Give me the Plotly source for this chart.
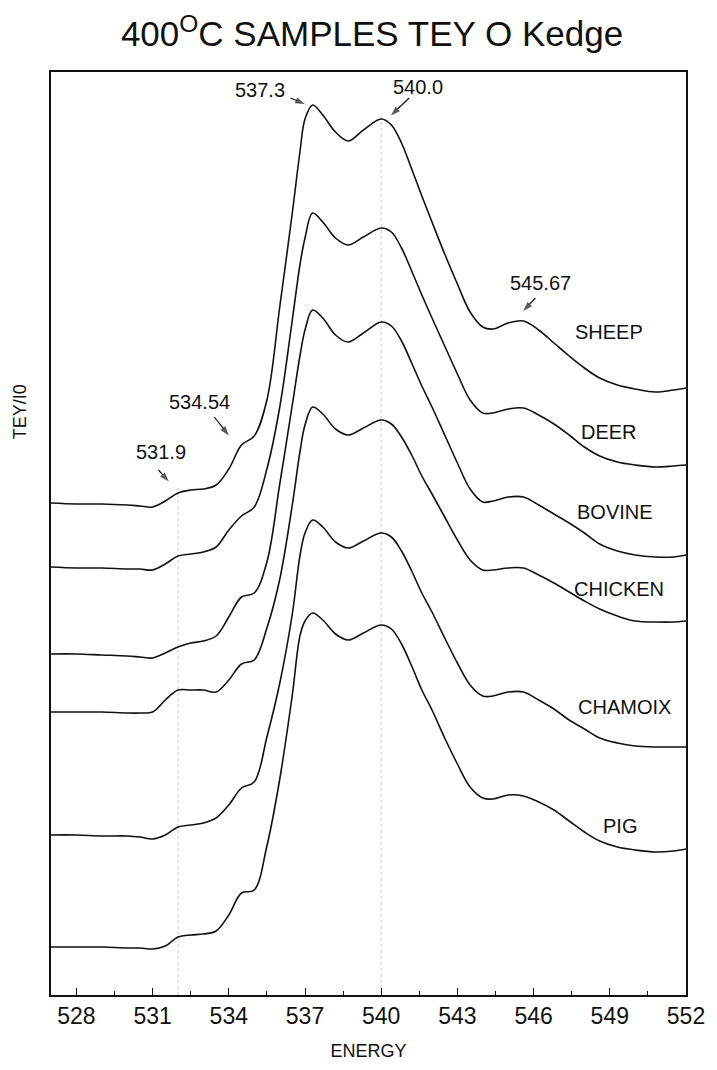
import plotly.graph_objects as go

# Photon energy grid (eV) shared by all spectra
energy = [527, 528, 529, 530, 530.5, 531, 531.5, 532, 532.5, 533, 533.5, 534, 534.5, 535,
          535.5, 536, 536.5, 536.8, 537.0, 537.3,
          537.7, 538.2, 538.7, 539.3, 540.0, 540.4, 540.8, 541.2, 541.6, 542.0, 542.5, 543.0,
          543.5, 544.0, 544.4, 545.0, 545.6, 546.2, 546.8, 547.4, 548.0, 548.6, 549.3, 550.0,
          550.8, 551.5, 552.0]

# TEY/I0 (arbitrary units, vertically stacked)
sheep = [4.92, 4.91, 4.91, 4.90, 4.89, 4.88, 4.94, 5.02, 5.05, 5.06, 5.10, 5.26, 5.50, 5.59,
         5.95, 6.87, 7.82, 8.43, 8.76, 8.90,
         8.80, 8.63, 8.54, 8.65, 8.76, 8.70, 8.52, 8.26, 7.99, 7.73, 7.41, 7.11, 6.83, 6.68,
         6.66, 6.72, 6.74, 6.65, 6.52, 6.39, 6.27, 6.17, 6.10, 6.06, 6.03, 6.05, 6.07]
deer = [4.28, 4.27, 4.27, 4.26, 4.26, 4.25, 4.31, 4.39, 4.41, 4.43, 4.48, 4.65, 4.79, 4.88,
        5.26, 5.87, 6.75, 7.30, 7.57, 7.82,
        7.73, 7.57, 7.50, 7.58, 7.67, 7.63, 7.47, 7.24, 7.00, 6.77, 6.49, 6.21, 5.95, 5.82,
        5.82, 5.86, 5.87, 5.80, 5.71, 5.60, 5.48, 5.39, 5.33, 5.30, 5.28, 5.29, 5.30]
bovine = [3.41, 3.41, 3.40, 3.39, 3.38, 3.37, 3.42, 3.48, 3.52, 3.54, 3.59, 3.78, 3.98, 4.02,
          4.33, 5.10, 5.90, 6.39, 6.65, 6.85,
          6.77, 6.60, 6.53, 6.62, 6.73, 6.69, 6.54, 6.32, 6.09, 5.88, 5.60, 5.32, 5.06, 4.93,
          4.94, 4.98, 4.98, 4.90, 4.81, 4.72, 4.62, 4.51, 4.44, 4.40, 4.38, 4.38, 4.40]
chicken = [2.83, 2.83, 2.83, 2.82, 2.82, 2.83, 2.95, 3.05, 3.05, 3.05, 3.03, 3.15, 3.31, 3.35,
           3.67, 4.15, 4.90, 5.43, 5.70, 5.88,
           5.81, 5.66, 5.60, 5.67, 5.75, 5.71, 5.58, 5.40, 5.19, 5.01, 4.78, 4.55, 4.35, 4.25,
           4.25, 4.27, 4.27, 4.20, 4.12, 4.03, 3.94, 3.86, 3.79, 3.74, 3.73, 3.73, 3.74]
chamoix = [1.60, 1.60, 1.59, 1.59, 1.58, 1.56, 1.60, 1.68, 1.70, 1.72, 1.77, 1.90, 2.07, 2.13,
           2.58, 3.11, 3.81, 4.39, 4.62, 4.75,
           4.68, 4.53, 4.47, 4.54, 4.62, 4.58, 4.44, 4.24, 4.02, 3.83, 3.57, 3.32, 3.10, 2.99,
           2.99, 3.03, 3.03, 2.95, 2.86, 2.75, 2.66, 2.57, 2.52, 2.49, 2.48, 2.48, 2.48]
pig = [0.48, 0.48, 0.48, 0.47, 0.47, 0.46, 0.49, 0.58, 0.60, 0.61, 0.64, 0.80, 1.02, 1.05,
       1.49, 2.15, 3.00, 3.59, 3.74, 3.82,
       3.75, 3.61, 3.55, 3.62, 3.70, 3.66, 3.51, 3.29, 3.05, 2.85, 2.57, 2.31, 2.08, 1.97,
       1.96, 2.00, 1.99, 1.93, 1.85, 1.74, 1.63, 1.54, 1.48, 1.45, 1.43, 1.44, 1.46]

sample_names = ["SHEEP", "DEER", "BOVINE", "CHICKEN", "CHAMOIX", "PIG"]
sample_label_x = [548.96, 548.96, 549.19, 549.38, 549.59, 549.41]
sample_label_y = [6.63, 5.63, 4.83, 4.06, 2.88, 1.69]

# Marked features: label text position and pointer arrow (tail -> head)
feature_labels = ["537.3", "540.0", "545.67", "534.54", "531.9"]
feature_text_x = [535.22, 541.45, 546.27, 532.85, 531.33]
feature_text_y = [9.05, 9.08, 7.12, 5.93, 5.43]
arrow_tail_x = [536.43, 541.10, 546.07, 533.43, 531.23]
arrow_tail_y = [8.97, 8.97, 6.97, 5.78, 5.25]
arrow_head_x = [536.99, 540.38, 545.59, 534.00, 531.64]
arrow_head_y = [8.91, 8.795, 6.84, 5.595, 5.135]

ref_lines_x = [532.0, 540.0]

x_ticks = [528, 531, 534, 537, 540, 543, 546, 549, 552]
x_minor = [529.5, 532.5, 535.5, 538.5, 541.5, 544.5, 547.5, 550.5]

FONT = "Arial, Liberation Sans, sans-serif"
INK = "#111111"

fig = go.Figure()

# light dotted reference lines at the edge features, up to the top spectrum
for xr in ref_lines_x:
    i = energy.index(xr)
    fig.add_shape(type="line", x0=xr, x1=xr, y0=0, y1=sheep[i] + 0.06,
                  xref="x", yref="y", layer="below",
                  line=dict(color="#c8c8c8", width=1, dash="dot"))

for series in [sheep, deer, bovine, chicken, chamoix, pig]:
    fig.add_trace(go.Scatter(x=energy, y=series, mode="lines",
                             line=dict(color=INK, width=1.6, shape="spline", smoothing=1.0),
                             showlegend=False, hoverinfo="skip"))

# pointer arrows: a short segment ending in an arrow-head marker
for x0, y0, x1, y1 in zip(arrow_tail_x, arrow_tail_y, arrow_head_x, arrow_head_y):
    fig.add_trace(go.Scatter(x=[x0, x1], y=[y0, y1], mode="lines+markers",
                             line=dict(color=INK, width=1.2),
                             marker=dict(symbol=["circle", "arrow"], size=[0.1, 10],
                                         angleref="previous", color=INK,
                                         line=dict(width=0)),
                             showlegend=False, hoverinfo="skip"))

annotations = []
for name, lx, ly in zip(sample_names, sample_label_x, sample_label_y):
    annotations.append(dict(x=lx, y=ly, xref="x", yref="y", text=name, showarrow=False,
                            font=dict(family=FONT, size=20, color=INK),
                            xanchor="center", yanchor="middle"))

for lab, px, py in zip(feature_labels, feature_text_x, feature_text_y):
    annotations.append(dict(x=px, y=py, xref="x", yref="y", text=lab, showarrow=False,
                            font=dict(family=FONT, size=20, color=INK),
                            xanchor="center", yanchor="middle"))

# vertical axis title placed in paper coordinates
PW = 717 - 51 - 24
PH = 995 - 72
annotations.append(dict(x=-(51 - 20) / PW, y=(995 - 412) / PH, xref="paper", yref="paper",
                        text="TEY/I0", showarrow=False, textangle=-90,
                        font=dict(family=FONT, size=18, color=INK),
                        xanchor="center", yanchor="middle"))

fig.update_layout(
    width=717, height=1070,
    margin=dict(l=51, r=24, t=72, b=75),
    paper_bgcolor="white", plot_bgcolor="white",
    title=dict(text="400<sup>O</sup>C SAMPLES TEY O Kedge",
               x=372 / 717, xanchor="center", y=1 - 34 / 1070, yanchor="middle",
               xref="container", yref="container",
               font=dict(family=FONT, size=35, color=INK)),
    annotations=annotations,
    xaxis=dict(range=[527, 552], tickvals=x_ticks, ticktext=[str(t) for t in x_ticks],
               ticks="inside", ticklen=7, tickwidth=1.3, tickcolor=INK,
               minor=dict(tickvals=x_minor, ticks="inside", ticklen=4, tickwidth=1.3,
                          tickcolor=INK, showgrid=False),
               showline=True, mirror=True, linecolor=INK, linewidth=1.6,
               showgrid=False, zeroline=False,
               tickfont=dict(family=FONT, size=23, color=INK),
               title=dict(text="ENERGY", standoff=16,
                          font=dict(family=FONT, size=18, color=INK))),
    yaxis=dict(range=[0, 9.23], showticklabels=False, ticks="",
               showline=True, mirror=True, linecolor=INK, linewidth=1.6,
               showgrid=False, zeroline=False),
)

fig.write_html("out.html")
